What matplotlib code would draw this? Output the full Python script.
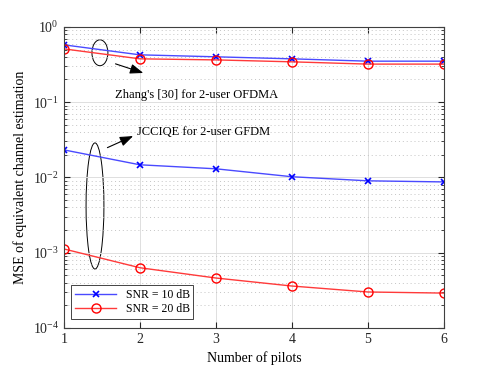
import matplotlib
matplotlib.use("Agg")
from matplotlib import pyplot as plt
from matplotlib.patches import Ellipse
from matplotlib.ticker import LogLocator, NullFormatter

plt.rcParams['font.family'] = ['Liberation Serif', 'DejaVu Serif']
plt.rcParams['mathtext.fontset'] = 'stix'

pilots = [1, 2, 3, 4, 5, 6]
# Zhang's [30], 2-user OFDMA
ofdma_10db = [0.577, 0.425, 0.40, 0.376, 0.35, 0.35]
ofdma_20db = [0.51, 0.376, 0.364, 0.343, 0.32, 0.32]
# JCCIQE, 2-user GFDM
gfdm_10db = [0.0232, 0.0147, 0.013, 0.0102, 0.0090, 0.0087]
gfdm_20db = [0.00112, 0.00063, 0.00046, 0.00036, 0.00030, 0.00029]

fig = plt.figure(figsize=(4.91, 3.68), dpi=100)
ax = fig.add_axes([0.130, 0.109, 0.774, 0.818])

blue_kw = dict(color='#4a4aff', lw=1.0, marker='x', ms=5, mew=1.2, mec='b')
red_kw = dict(color='#ff3a3a', lw=1.0, marker='o', ms=6.5, mfc='none', mew=1.0, mec='r')
ax.semilogy(pilots, gfdm_10db, label='SNR = 10 dB', **blue_kw)
ax.semilogy(pilots, gfdm_20db, label='SNR = 20 dB', **red_kw)
ax.semilogy(pilots, ofdma_10db, **blue_kw)
ax.semilogy(pilots, ofdma_20db, **red_kw)

ax.set_xlim(1, 6)
ax.set_ylim(1e-4, 1)
ax.set_xticks(pilots)
ax.yaxis.set_major_locator(LogLocator(base=10, numticks=10))
ax.yaxis.set_minor_locator(LogLocator(base=10, subs=range(2, 10), numticks=10))
ax.yaxis.set_minor_formatter(NullFormatter())
ax.tick_params(which='both', direction='in', top=True, right=True, labelsize=10, colors='#262626')
ax.tick_params(which='major', length=4)
ax.tick_params(which='minor', length=2)
ax.grid(True, which='major', color='#dedede', lw=0.7)
ax.grid(True, which='minor', axis='y', color='#c4c4c4', lw=0.7, ls=(0, (1, 3)))
for s in ax.spines.values():
    s.set_color('#404040')
    s.set_linewidth(0.8)

ax.set_xlabel('Number of pilots', fontsize=10)
ax.set_ylabel('MSE of equivalent channel estimation', fontsize=10)

ax.add_patch(Ellipse((0.095, 0.914), 0.042, 0.086, transform=ax.transAxes,
                     fill=False, ec='k', lw=0.7))
ax.add_patch(Ellipse((0.082, 0.405), 0.047, 0.419, transform=ax.transAxes,
                     fill=False, ec='k', lw=0.7))

arrow = dict(arrowstyle='-|>,head_length=0.8,head_width=0.3', color='k', lw=0.8)
ax.annotate('', xy=(0.216, 0.844), xytext=(0.129, 0.880), xycoords='axes fraction',
            textcoords='axes fraction', arrowprops=arrow)
ax.annotate('', xy=(0.189, 0.641), xytext=(0.108, 0.595), xycoords='axes fraction',
            textcoords='axes fraction', arrowprops=arrow)
ax.text(0.35, 0.774, "Zhang's [30] for 2-user OFDMA", transform=ax.transAxes,
        ha='center', va='center', fontsize=9)
ax.text(0.368, 0.651, "JCCIQE for 2-user GFDM", transform=ax.transAxes,
        ha='center', va='center', fontsize=9)

leg = ax.legend(loc='lower left', bbox_to_anchor=(0.02, 0.03), fontsize=8.5,
                fancybox=False, framealpha=1, edgecolor='#262626',
                borderpad=0.3, labelspacing=0.2, handlelength=3.5, borderaxespad=0)
leg.get_frame().set_linewidth(0.6)

plt.savefig('out.png', dpi=100)
